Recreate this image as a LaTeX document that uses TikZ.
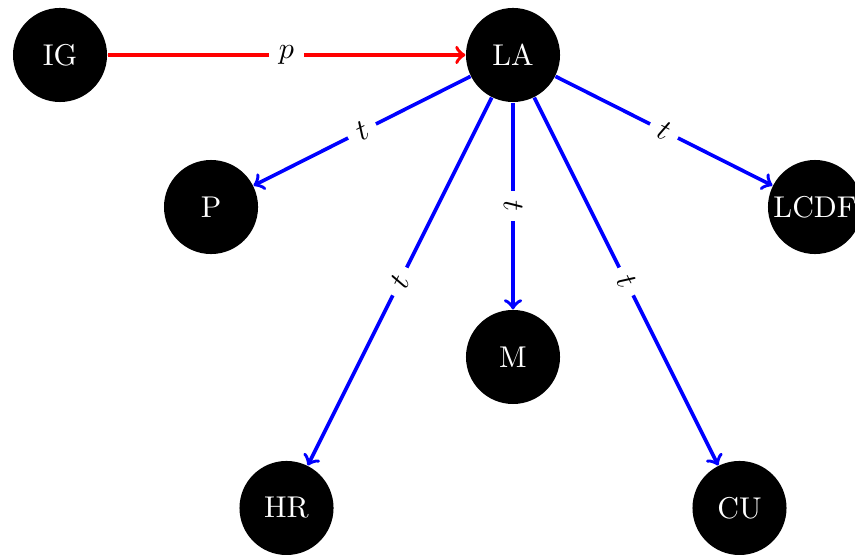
\documentclass[tikz,border=0pt]{standalone}
\usetikzlibrary{positioning}
\tikzset{
  state/.style={circle,fill=black,text=white,minimum size=1.1cm,inner sep=0pt},
  redge/.style={->,red,very thick},
  bedge/.style={->,blue,very thick},
  elabel/.style={fill=white,text=black,sloped}
}
\begin{document}
\begin{tikzpicture}
\useasboundingbox (-6.0,0.643) rectangle (4.0,-5.848);
\node[state] (LA) at (0,0) {LA};
\node[state] (IG) at (-5.298,0) {IG};
\node[state] (P) at (-3.532,-1.778) {P};
\node[state] (LCDF) at (3.532,-1.778) {LCDF};
\node[state] (M) at (0,-3.532) {M};
\node[state] (HR) at (-2.649,-5.298) {HR};
\node[state] (CU) at (2.649,-5.298) {CU};

\draw[redge] (IG) -- node[elabel] {$p$} (LA);
\draw[bedge] (LA) -- node[elabel] {$t$} (P);
\draw[bedge] (LA) -- node[elabel] {$t$} (LCDF);
\draw[bedge] (LA) -- node[elabel] {$t$} (M);
\draw[bedge] (LA) -- node[elabel] {$t$} (HR);
\draw[bedge] (LA) -- node[elabel] {$t$} (CU);
\end{tikzpicture}
\end{document}
